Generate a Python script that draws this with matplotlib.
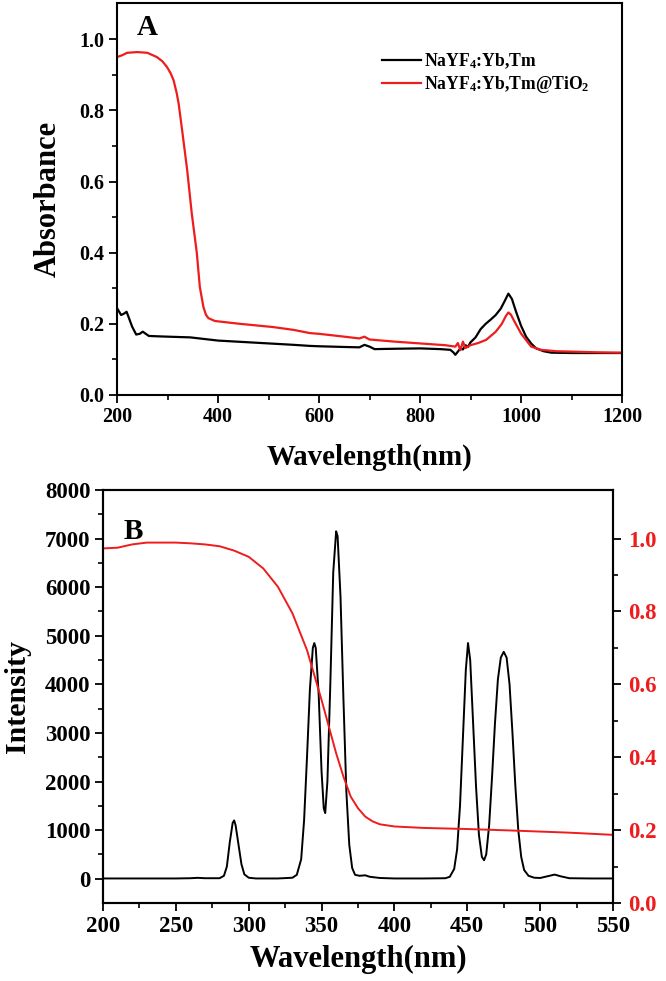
import matplotlib
matplotlib.use("Agg")
import matplotlib.pyplot as plt
import numpy as np

plt.rcParams['font.family'] = ['Liberation Serif', 'DejaVu Serif']
plt.rcParams['font.weight'] = 'bold'
plt.rcParams['mathtext.fontset'] = 'custom'
plt.rcParams['mathtext.rm'] = 'Liberation Serif:bold'
plt.rcParams['mathtext.bf'] = 'Liberation Serif:bold'
plt.rcParams['mathtext.it'] = 'Liberation Serif:bold'

# ---------------- Panel A data ----------------
a_black_x = [200, 204, 208, 213, 219, 224, 230, 238, 245, 251, 257, 263, 280, 300, 345, 400, 450, 500, 550, 582, 600, 650,
             680, 690, 700, 710, 750, 800, 840, 860, 866, 870, 875, 880, 885, 890, 895, 900, 910, 920, 930, 940, 950,
             960, 968, 975, 982, 990, 1000, 1010, 1020, 1030, 1045, 1060, 1100, 1150, 1200]
a_black_y = [0.244, 0.235, 0.225, 0.228, 0.234, 0.215, 0.192, 0.170, 0.172, 0.178, 0.172, 0.166, 0.165, 0.164, 0.162,
             0.153, 0.149, 0.145, 0.141, 0.138, 0.137, 0.135, 0.134, 0.141, 0.136, 0.129, 0.130, 0.131, 0.129, 0.127,
             0.120, 0.113, 0.122, 0.131, 0.128, 0.140, 0.135, 0.148, 0.162, 0.185, 0.200, 0.212, 0.225, 0.243, 0.265,
             0.285, 0.270, 0.235, 0.195, 0.164, 0.145, 0.131, 0.123, 0.119, 0.118, 0.118, 0.118]

a_red_x = [200, 210, 220, 240, 260, 279, 290, 299, 306, 312, 318, 322, 329, 339, 348, 358, 364, 371, 376, 381, 394, 444,
           509, 550, 582, 600, 650, 680, 690, 700, 750, 800, 850, 870, 875, 880, 885, 890, 900, 915, 931, 950, 962,
           970, 975, 980, 985, 1000, 1020, 1040, 1070, 1100, 1150, 1200]
a_red_y = [0.950, 0.955, 0.962, 0.964, 0.962, 0.950, 0.938, 0.922, 0.905, 0.885, 0.850, 0.820, 0.744, 0.632, 0.511,
           0.400, 0.304, 0.248, 0.226, 0.216, 0.208, 0.200, 0.191, 0.183, 0.174, 0.172, 0.164, 0.159, 0.164, 0.156,
           0.150, 0.145, 0.140, 0.136, 0.146, 0.126, 0.150, 0.132, 0.140, 0.146, 0.155, 0.178, 0.200, 0.222, 0.232,
           0.226, 0.212, 0.173, 0.136, 0.127, 0.123, 0.122, 0.120, 0.119]

# ---------------- Panel B data ----------------
b_em_x = [200, 250, 260, 265, 270, 280, 283, 285, 287, 289, 290, 291, 293, 295, 297, 300, 305, 320, 330, 333, 336, 338,
          340, 342, 344, 345, 346, 348, 350, 351.5, 352.5, 354, 356, 358, 360, 361, 363, 365, 367, 369, 371, 373, 376,
          380, 383, 390, 400, 420, 435, 438, 441, 443, 445, 447, 449, 450.5, 452, 454, 456, 458, 460, 461.5, 463, 465,
          467, 469, 471, 473, 475, 477, 479, 481, 483, 485, 487, 489, 492, 496, 500, 505, 510, 514, 520, 535, 550]
b_em_y = [5, 5, 10, 18, 10, 10, 60, 250, 750, 1150, 1200, 1100, 700, 300, 90, 20, 5, 5, 20, 80, 400, 1200,
          2500, 3900, 4750, 4850, 4750, 3800, 2200, 1450, 1350, 2000, 4000, 6300, 7150, 7050, 5800, 3700, 1800, 700,
          220, 80, 60, 70, 40, 15, 5, 5, 10, 40, 200, 600, 1500, 2900, 4300, 4850, 4500, 3200, 1900, 900, 450, 380,
          500, 1100, 2100, 3200, 4100, 4550, 4670, 4550, 4000, 3000, 1900, 1000, 450, 180, 60, 20, 15, 50, 85, 50, 10,
          5, 5]

b_abs_x = [200, 210, 220, 230, 240, 250, 260, 270, 280, 290, 300, 310, 320, 330, 340, 350, 360, 365, 370, 375, 380, 385,
           390, 400, 420, 450, 480, 500, 520, 550]
b_abs_y = [0.973, 0.975, 0.984, 0.989, 0.989, 0.989, 0.987, 0.984, 0.979, 0.967, 0.950, 0.918, 0.868, 0.795, 0.694,
           0.557, 0.411, 0.347, 0.292, 0.260, 0.237, 0.224, 0.216, 0.210, 0.206, 0.203, 0.199, 0.196, 0.193, 0.187]

RED = '#ee1c1c'
fig = plt.figure(figsize=(6.66, 9.81), dpi=100)

def style(ax, size):
    for s in ax.spines.values():
        s.set_linewidth(1.5)
    ax.tick_params(which='major', direction='out', length=6, width=1.3, labelsize=size, pad=3)
    ax.tick_params(which='minor', direction='out', length=3.8, width=1.2)
    for lab in ax.get_xticklabels() + ax.get_yticklabels():
        lab.set_fontweight('bold')

# Panel A
axA = fig.add_axes([117/666, 1-395/981, (622-117)/666, (395-3)/981])
axA.plot(a_black_x, a_black_y, color='black', lw=1.6, label='NaYF$_4$:Yb,Tm')
axA.plot(a_red_x, a_red_y, color=RED, lw=1.6, label='NaYF$_4$:Yb,Tm@TiO$_2$')
axA.set_xlim(200, 1200)
axA.set_ylim(0, 1.102)
axA.set_xticks(np.arange(200, 1201, 200))
axA.set_xticks(np.arange(300, 1200, 200), minor=True)
axA.set_yticks(np.arange(0, 1.01, 0.2))
axA.set_yticks(np.arange(0.1, 1.1, 0.2), minor=True)
axA.set_yticklabels(['0.0', '0.2', '0.4', '0.6', '0.8', '1.0'])
style(axA, 14.5)
axA.set_xlabel('Wavelength(nm)', fontsize=20.8, fontweight='bold', labelpad=12)
axA.set_ylabel('Absorbance', fontsize=22, fontweight='bold', labelpad=12)
axA.text(0.04, 0.9375, 'A', transform=axA.transAxes, fontsize=21, fontweight='bold', va='center', ha='left')
leg = axA.legend(loc='upper left', bbox_to_anchor=(382/666, 1-51/981), bbox_transform=fig.transFigure,
                 frameon=False, fontsize=12.7, handlelength=2.2, handletextpad=0.2, borderpad=0, borderaxespad=0,
                 labelspacing=0.2)
for t in leg.get_texts():
    t.set_fontweight('bold')

# Panel B
axB = fig.add_axes([103/666, 1-903/981, (613-103)/666, (903-490)/981])
axB.plot(b_em_x, b_em_y, color='black', lw=1.4)
axB.set_xlim(200, 550)
axB.set_ylim(-500, 8000)
axB.set_xticks(np.arange(200, 551, 50))
axB.set_xticks(np.arange(225, 550, 50), minor=True)
axB.set_yticks(np.arange(0, 8001, 1000))
axB.set_yticks(np.arange(500, 8000, 1000), minor=True)
style(axB, 16.5)
axB.set_xlabel('Wavelength(nm)', fontsize=22, fontweight='bold', labelpad=6)
axB.set_ylabel('Intensity', fontsize=21.5, fontweight='bold', labelpad=10)
axB.text(0.04, 0.9, 'B', transform=axB.transAxes, fontsize=21, fontweight='bold', va='center', ha='left')

axB2 = axB.twinx()
axB2.plot(b_abs_x, b_abs_y, color=RED, lw=1.4)
axB2.set_ylim(0, 8500/7500)
axB2.set_yticks(np.arange(0, 1.01, 0.2))
axB2.set_yticks(np.arange(0.1, 1.1, 0.2), minor=True)
axB2.set_yticklabels(['0.0', '0.2', '0.4', '0.6', '0.8', '1.0'])
style(axB2, 16.5)
axB2.tick_params(axis='y', labelcolor=RED, pad=5)

fig.savefig('out.png', dpi=100)
